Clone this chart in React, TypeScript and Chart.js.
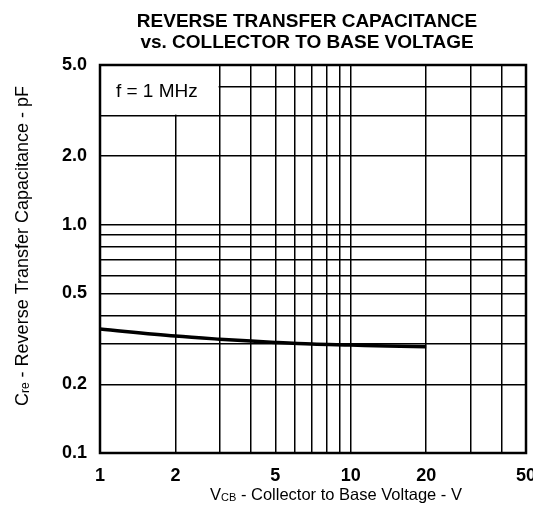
import React, { useEffect, useRef } from "react";
import { Chart, registerables } from "chart.js";

Chart.register(...registerables);

// ---- data ----
const VOLTAGE = [1, 2, 3, 4, 5, 7, 10, 14, 20];
const CAPACITANCE = [0.349, 0.325, 0.315, 0.309, 0.305, 0.3, 0.297, 0.294, 0.292];

const X_GRID = [1, 2, 3, 4, 5, 6, 7, 8, 9, 10, 20, 30, 40, 50];
const Y_GRID = [0.1, 0.2, 0.3, 0.4, 0.5, 0.6, 0.7, 0.8, 0.9, 1, 2, 3, 4, 5];
const X_LABELS = [1, 2, 5, 10, 20, 50];
const Y_LABELS = [0.1, 0.2, 0.5, 1, 2, 5];

const TITLE_LINES = ["REVERSE TRANSFER CAPACITANCE", "vs. COLLECTOR TO BASE VOLTAGE"];
const NOTE = "f = 1 MHz";
const NOTE_X = [1, 3];
const NOTE_Y = [3, 5];
const X_TITLE: [string, boolean][] = [["V", false], ["CB", true], [" - Collector to Base Voltage - V", false]];
const Y_TITLE: [string, boolean][] = [["C", false], ["re", true], [" - Reverse Transfer Capacitance - pF", false]];

const FONT = '"Liberation Sans", Arial, Helvetica, sans-serif';

function drawParts(ctx: CanvasRenderingContext2D, parts: [string, boolean][], size: number, subSize: number, cx: number, baseline: number) {
  let total = 0;
  const widths = parts.map(([t, sub]) => {
    ctx.font = `${sub ? subSize : size}px ${FONT}`;
    const w = ctx.measureText(t).width;
    total += w;
    return w;
  });
  let x = cx - total / 2;
  ctx.textAlign = "left";
  ctx.textBaseline = "alphabetic";
  parts.forEach(([t, sub], i) => {
    ctx.font = `${sub ? subSize : size}px ${FONT}`;
    ctx.fillText(t, x, baseline + (sub ? 1 : 0));
    x += widths[i];
  });
}

const decor = {
  id: "decor",
  beforeDatasetsDraw(chart: any) {
    const { ctx, scales } = chart;
    const x = scales.x, y = scales.y;
    const x0 = x.getPixelForValue(NOTE_X[0]);
    const x1 = x.getPixelForValue(NOTE_X[1]);
    const y0 = y.getPixelForValue(NOTE_Y[1]);
    const y1 = y.getPixelForValue(NOTE_Y[0]);
    ctx.save();
    ctx.fillStyle = "#fff";
    ctx.fillRect(x0 + 1, y0 + 1, x1 - x0 - 2, y1 - y0 - 2);
    ctx.fillStyle = "#000";
    ctx.font = `19px ${FONT}`;
    ctx.textAlign = "center";
    ctx.textBaseline = "middle";
    ctx.fillText(NOTE, (x0 + x1) / 2 - 3, (y0 + y1) / 2 + 1);
    ctx.restore();
  },
  afterDraw(chart: any) {
    const { ctx, chartArea } = chart;
    ctx.save();
    // frame
    ctx.strokeStyle = "#000";
    ctx.lineWidth = 2.5;
    ctx.strokeRect(chartArea.left, chartArea.top, chartArea.right - chartArea.left, chartArea.bottom - chartArea.top);
    // title
    ctx.fillStyle = "#000";
    ctx.font = `bold 19px ${FONT}`;
    ctx.textAlign = "center";
    ctx.textBaseline = "alphabetic";
    ctx.fillText(TITLE_LINES[0], 307, 27);
    ctx.fillText(TITLE_LINES[1], 307, 48);
    // x title
    drawParts(ctx, X_TITLE, 16.5, 11, 336, 500);
    // y title
    ctx.translate(28, 246);
    ctx.rotate(-Math.PI / 2);
    drawParts(ctx, Y_TITLE, 18, 12, 0, 0);
    ctx.restore();
  },
};

export default function App() {
  const ref = useRef<HTMLCanvasElement>(null);
  useEffect(() => {
    if (!ref.current) return;
    const chart = new Chart(ref.current, {
      type: "line",
      data: {
        datasets: [
          {
            data: VOLTAGE.map((v, i) => ({ x: v, y: CAPACITANCE[i] })),
            borderColor: "#000",
            borderWidth: 3.5,
            pointRadius: 0,
            cubicInterpolationMode: "monotone",
            fill: false,
          },
        ],
      },
      options: {
        responsive: false,
        animation: false,
        layout: { padding: { top: 65, right: 7, left: 0, bottom: 0 } },
        plugins: { legend: { display: false }, title: { display: false }, tooltip: { enabled: false } },
        scales: {
          x: {
            type: "logarithmic",
            min: 1,
            max: 50,
            afterBuildTicks: (s: any) => {
              s.ticks = X_GRID.map((v) => ({ value: v }));
            },
            afterFit: (s: any) => {
              s.height = 68;
              s.paddingLeft = 0;
              s.paddingRight = 0;
            },
            grid: { color: "#000", lineWidth: 1.5, drawTicks: false },
            border: { display: false },
            ticks: {
              autoSkip: false,
              maxRotation: 0,
              minRotation: 0,
              padding: 12,
              color: "#000",
              font: { family: FONT, size: 18, weight: "bold" },
              callback: (v: any) => (X_LABELS.includes(Number(v)) ? String(v) : ""),
            },
          },
          y: {
            type: "logarithmic",
            min: 0.1,
            max: 5,
            afterBuildTicks: (s: any) => {
              s.ticks = Y_GRID.map((v) => ({ value: v }));
            },
            afterFit: (s: any) => {
              s.width = 100;
              s.paddingTop = 0;
              s.paddingBottom = 0;
            },
            grid: { color: "#000", lineWidth: 1.5, drawTicks: false },
            border: { display: false },
            ticks: {
              autoSkip: false,
              padding: 13,
              color: "#000",
              font: { family: FONT, size: 18, weight: "bold" },
              callback: (v: any) => (Y_LABELS.includes(Number(v)) ? Number(v).toFixed(1) : ""),
            },
          },
        },
      },
      plugins: [decor],
    } as any);
    return () => chart.destroy();
  }, []);
  return (
    <div style={{ position: "absolute", left: 0, top: 0, width: 533, height: 521, background: "#fff" }}>
      <canvas ref={ref} width={533} height={521} style={{ display: "block" }} />
    </div>
  );
}
